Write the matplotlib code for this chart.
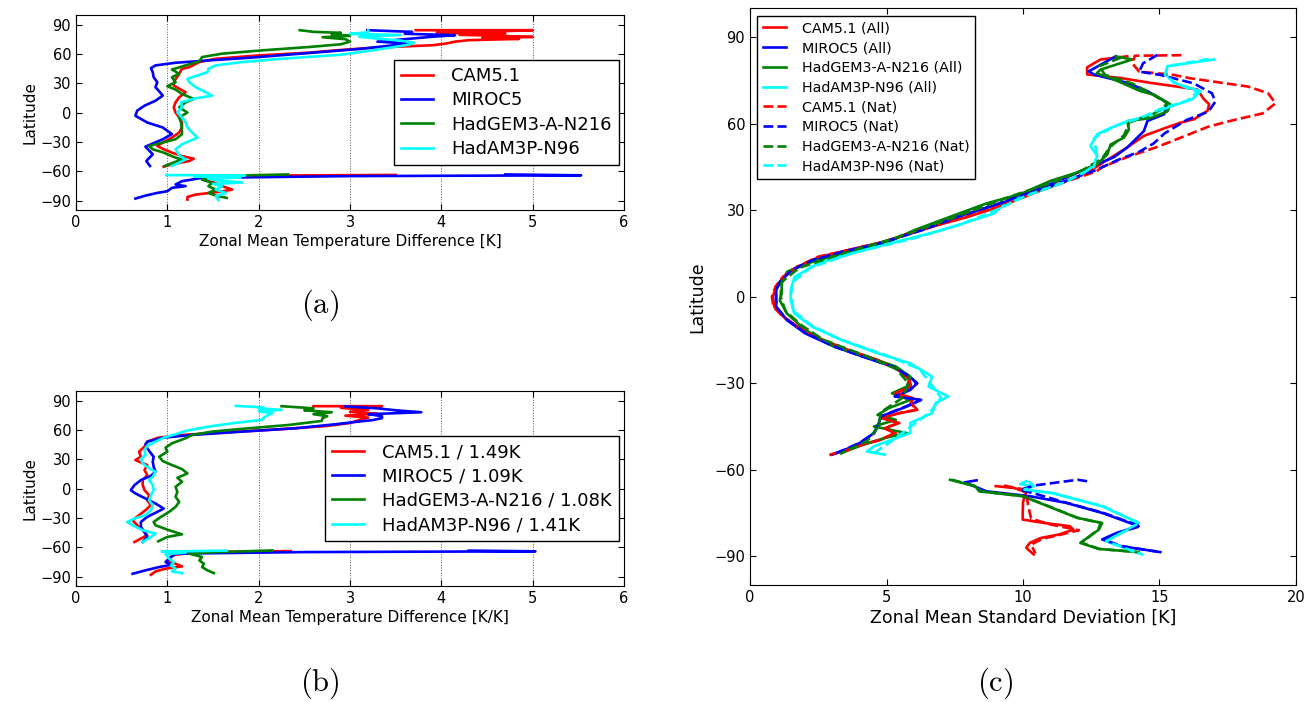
import numpy as np
import matplotlib
matplotlib.use("Agg")
import matplotlib.pyplot as plt

plt.rcParams['xtick.direction'] = 'in'
plt.rcParams['ytick.direction'] = 'in'
plt.rcParams['xtick.top'] = True
plt.rcParams['ytick.right'] = True
plt.rcParams['xtick.major.size'] = 4
plt.rcParams['ytick.major.size'] = 4
plt.rcParams['mathtext.fontset'] = 'cm'

models = ["CAM5.1", "MIROC5", "HadGEM3-A-N216", "HadAM3P-N96"]
colors = ["#ff0000", "#0000ff", "#008000", "#00ffff"]
scale_b = ["1.49K", "1.09K", "1.08K", "1.41K"]

# ---------------- panel (a): zonal mean temperature difference [K]
a_cam_lat = [84.2, 84.2, 82.5, 81.5, 80.5, 79.5, 78.5, 77.3, 76.3, 75.3, 74.0, 72.5, 70.5, 68.8, 66.5, 64.0,
             61.2, 58.4, 55.0, 51.6, 46.4, 44.7, 39.6, 32.7, 27.6, 20.7, 15.6, 10.4, 5.3, 0.0, -5.0, -10.2,
             -15.3, -20.4, -25.6, -30.7, -34.2, -37.6, -41.0, -44.5, -47.2, -49.6, -53.0, -55.4]
a_cam_val = [3.72, 5.0, 4.45, 3.95, 4.7, 4.2, 4.6, 5.0, 4.45, 4.85, 4.3, 4.15, 4.05, 3.9, 3.3, 2.9,
             2.55, 2.0, 1.53, 1.35, 1.24, 1.16, 1.13, 1.08, 1.07, 1.2, 1.13, 1.09, 1.07, 1.09, 1.13, 1.16,
             1.16, 1.13, 1.05, 0.95, 0.89, 0.96, 1.05, 1.16, 1.29, 1.24, 1.05, 0.96]
a_cam_slat = [-63.8, -64.5, -66.0, -68.5, -72.0, -75.3, -78.8, -81.2, -83.9, -86.3, -89.0]
a_cam_sval = [3.5, 2.0, 1.4, 1.38, 1.53, 1.6, 1.71, 1.56, 1.31, 1.22, 1.22]

a_miroc_lat = [84.2, 82.5, 80.5, 79.1, 77.5, 75.0, 72.5, 70.5, 68.0, 65.0, 62.0, 59.0, 56.0, 53.3, 50.9,
               48.2, 45.4, 41.3, 36.1, 31.0, 25.9, 21.7, 17.3, 12.1, 7.0, 1.9, -3.3, -10.2, -15.3, -22.0,
               -27.3, -32.5, -34.9, -42.7, -49.6, -54.7]
a_miroc_val = [3.19, 3.68, 3.6, 4.15, 3.9, 3.6, 3.3, 3.65, 3.4, 3.1, 2.7, 2.3, 1.9, 1.45, 1.09,
               0.87, 0.82, 0.84, 0.85, 0.89, 0.87, 0.91, 0.95, 0.87, 0.75, 0.67, 0.65, 0.78, 0.95, 1.05,
               0.95, 0.82, 0.76, 0.84, 0.77, 0.81]
a_miroc_slat = [-63.3, -64.2, -65.0, -66.8, -70.2, -73.6, -75.3, -77.0, -80.5, -82.2, -85.0, -88.0]
a_miroc_sval = [4.7, 5.53, 3.0, 1.38, 1.16, 1.09, 1.2, 1.05, 1.0, 0.89, 0.76, 0.65]

a_hadgem_lat = [84.2, 82.5, 81.5, 80.0, 78.5, 77.0, 75.0, 72.5, 69.8, 67.0, 63.6, 60.2, 56.7, 52.3, 48.2,
                44.0, 39.6, 36.1, 31.0, 26.9, 23.5, 19.0, 13.9, 10.4, 5.3, 0.0, -5.0, -10.2, -17.0, -22.2,
                -27.3, -30.7, -34.2, -37.6, -41.0, -46.2, -47.9, -54.7]
a_hadgem_val = [2.45, 2.6, 2.9, 2.8, 3.0, 2.7, 2.95, 3.0, 2.9, 2.55, 2.04, 1.6, 1.38, 1.35, 1.2,
                1.05, 1.13, 1.05, 1.09, 1.0, 1.09, 1.16, 1.29, 1.2, 1.13, 1.22, 1.13, 1.15, 1.16, 1.16,
                1.09, 0.95, 0.8, 0.84, 0.96, 1.09, 1.16, 0.97]
a_hadgem_slat = [-63.3, -65.0, -68.5, -72.0, -75.3, -78.8, -82.2, -85.0, -87.3]
a_hadgem_sval = [2.32, 1.5, 1.38, 1.49, 1.45, 1.53, 1.45, 1.53, 1.65]

a_hadam_lat = [84.0, 82.0, 80.5, 79.3, 77.5, 75.5, 73.5, 71.5, 69.5, 66.5, 63.0, 59.1, 55.0, 51.6, 48.2,
               44.7, 41.3, 37.9, 34.4, 31.0, 25.9, 20.7, 17.3, 14.5, 10.4, 5.3, 0.0, -5.0, -10.2, -15.3,
               -20.4, -25.6, -32.5, -37.6, -43.8, -47.9, -51.3, -54.7]
a_hadam_val = [3.2, 3.2, 3.0, 3.55, 3.1, 3.3, 3.55, 3.7, 3.65, 3.45, 3.2, 2.9, 2.25, 1.82, 1.53,
               1.45, 1.44, 1.33, 1.22, 1.24, 1.31, 1.42, 1.49, 1.31, 1.15, 1.16, 1.11, 1.16, 1.2, 1.22,
               1.27, 1.33, 1.16, 1.09, 1.13, 1.2, 1.13, 1.05]
a_hadam_slat = [-64.0, -64.3, -65.5, -66.5, -67.5, -69.5, -71.5, -73.0, -75.3, -78.8, -82.2, -85.6, -89.5]
a_hadam_sval = [0.99, 1.85, 1.3, 1.8, 1.45, 1.55, 1.82, 1.5, 1.6, 1.53, 1.64, 1.53, 1.56]

# ---------------- panel (b): zonal mean temperature difference [K/K]
b_cam_lat = [84.2, 84.2, 82.5, 80.5, 78.5, 76.5, 74.5, 72.5, 70.0, 67.0, 64.0, 61.0, 58.0, 55.0, 52.0,
             47.9, 42.8, 37.7, 32.5, 29.1, 24.0, 18.9, 13.7, 8.6, 3.5, -1.7, -6.8, -12.0, -17.0, -22.2,
             -27.3, -32.4, -37.6, -42.7, -47.8, -51.2, -54.7]
b_cam_val = [2.6, 3.35, 2.9, 3.2, 3.0, 3.3, 2.95, 3.2, 3.1, 3.0, 2.75, 2.3, 1.75, 1.2, 0.9,
             0.78, 0.75, 0.69, 0.71, 0.65, 0.78, 0.75, 0.78, 0.73, 0.73, 0.75, 0.8, 0.78, 0.82, 0.76,
             0.69, 0.62, 0.67, 0.73, 0.78, 0.71, 0.64]
b_cam_slat = [-64.0, -65.0, -68.4, -73.5, -76.9, -79.6, -82.0, -84.8, -88.2]
b_cam_sval = [2.35, 1.3, 1.05, 1.0, 1.09, 1.16, 0.98, 0.87, 0.82]

b_miroc_lat = [84.0, 82.0, 80.0, 78.0, 76.0, 74.0, 72.0, 70.0, 68.0, 65.7, 61.6, 58.2, 54.8, 52.0, 47.9,
               45.2, 41.1, 36.0, 32.5, 27.4, 22.3, 17.2, 13.0, 8.6, 3.5, -1.7, -5.0, -10.2, -15.3, -20.5,
               -23.9, -29.0, -34.2, -39.3, -44.4, -49.5, -54.7]
b_miroc_val = [2.95, 3.3, 3.5, 3.78, 3.2, 3.35, 3.35, 3.25, 3.05, 2.84, 2.4, 1.82, 1.27, 0.95, 0.78,
               0.76, 0.78, 0.82, 0.85, 0.84, 0.85, 0.87, 0.82, 0.71, 0.64, 0.6, 0.65, 0.76, 0.87, 0.96,
               0.89, 0.78, 0.71, 0.71, 0.75, 0.78, 0.73]
b_miroc_slat = [-63.5, -64.2, -65.0, -66.6, -71.8, -75.2, -77.9, -80.3, -83.7, -87.2]
b_miroc_sval = [4.3, 5.03, 2.5, 1.09, 1.02, 0.98, 1.05, 0.91, 0.76, 0.62]

b_hadgem_lat = [84.2, 82.0, 80.0, 78.0, 76.0, 74.0, 72.0, 69.1, 65.0, 61.6, 58.2, 54.8, 51.4, 46.2, 41.8,
                37.7, 32.5, 28.1, 24.0, 19.9, 15.4, 11.0, 6.9, 1.8, -3.4, -8.5, -13.6, -18.8, -23.9, -29.0,
                -34.2, -37.6, -42.7, -46.8, -49.5, -54.0]
b_hadgem_val = [2.25, 2.6, 2.5, 2.8, 2.6, 2.75, 2.7, 2.69, 2.33, 1.89, 1.49, 1.27, 1.2, 1.05, 0.98,
                1.0, 0.91, 0.95, 1.05, 1.16, 1.22, 1.11, 1.16, 1.09, 1.11, 1.09, 1.13, 1.09, 1.02, 0.93,
                0.85, 0.87, 1.02, 1.16, 1.0, 0.9]
b_hadgem_slat = [-63.3, -65.5, -66.6, -70.0, -73.5, -76.9, -80.3, -83.7, -86.5]
b_hadgem_sval = [2.15, 1.4, 1.24, 1.38, 1.35, 1.4, 1.38, 1.44, 1.51]

b_hadam_lat = [84.5, 83.0, 82.0, 80.5, 79.0, 77.0, 75.0, 72.0, 70.2, 66.7, 63.3, 58.9, 55.5, 52.0, 47.9,
               43.8, 39.4, 34.3, 30.2, 25.7, 20.6, 17.2, 12.0, 8.6, 3.5, -1.7, -6.8, -12.0, -17.0, -22.2,
               -27.3, -30.7, -34.2, -37.6, -42.7, -46.0, -49.5, -54.7]
b_hadam_val = [1.75, 2.05, 2.0, 2.25, 2.0, 2.15, 2.1, 2.05, 2.04, 1.71, 1.45, 1.2, 1.09, 0.96, 0.87,
               0.78, 0.75, 0.76, 0.71, 0.73, 0.8, 0.87, 0.84, 0.8, 0.84, 0.85, 0.82, 0.8, 0.84, 0.82,
               0.76, 0.64, 0.56, 0.62, 0.73, 0.87, 0.82, 0.73]
b_hadam_slat = [-63.5, -64.5, -65.5, -67.3, -71.8, -75.2, -78.6, -82.0, -84.8, -86.5]
b_hadam_sval = [1.65, 0.94, 1.2, 0.98, 1.02, 1.07, 1.04, 1.09, 1.05, 1.16]

# ---------------- panel (c): zonal mean standard deviation [K], All forcing
c_cam_all_lat = [83.4, 82.3, 79.6, 77.1, 75.9, 74.2, 71.9, 68.5, 66.8, 64.5, 61.6, 60.4, 58.4, 55.8, 51.8,
                 48.9, 46.0, 43.7, 40.2, 36.8, 33.3, 30.5, 27.5, 25.4, 22.0, 19.1, 16.2, 13.9, 10.4, 6.9,
                 3.5, 0.0, -3.5, -6.9, -10.4, -15.0, -18.5, -21.9, -25.4, -28.8, -31.0, -33.5, -35.2,
                 -37.0, -39.2, -40.4, -42.1, -43.8, -45.6, -47.3, -49.6, -51.3, -53.1, -54.8]
c_cam_all_val = [13.82, 12.84, 12.35, 12.35, 13.57, 14.67, 16.39, 16.63, 16.82, 16.76, 16.27, 15.78, 15.17,
                 14.43, 13.82, 13.33, 12.84, 12.47, 11.62, 10.64, 9.66, 8.9, 7.9, 7.08, 5.88, 4.95, 3.62,
                 2.56, 1.76, 1.23, 0.96, 0.83, 0.89, 1.22, 1.75, 2.68, 3.61, 4.67, 5.47, 5.84, 5.9, 5.34,
                 5.98, 5.9, 6.13, 5.47, 4.81, 5.47, 4.94, 5.34, 4.8, 4.14, 3.61, 2.95]
c_cam_all_slat = [-65.7, -66.4, -67.9, -69.2, -71.5, -75.0, -77.3, -78.5, -79.6, -80.8, -82.5, -83.7, -85.4,
                  -87.1, -89.4]
c_cam_all_sval = [9.0, 9.7, 10.12, 10.05, 10.0, 9.99, 9.99, 10.78, 11.71, 11.85, 11.31, 10.65, 10.25, 10.12,
                  10.39]

c_miroc_all_lat = [83.4, 78.2, 77.1, 74.2, 71.3, 67.3, 63.3, 61.0, 57.5, 54.1, 51.8, 48.4, 45.5, 41.5, 36.8,
                   32.3, 27.8, 23.1, 18.5, 15.6, 12.7, 9.2, 5.2, 2.3, -1.2, -3.5, -8.1, -12.7, -17.3, -20.8,
                   -24.2, -27.7, -30.0, -32.3, -34.6, -35.8, -38.1, -41.5, -45.0, -47.3, -50.8, -53.1, -54.8]
c_miroc_all_val = [13.4, 12.41, 12.6, 13.82, 14.56, 15.29, 15.17, 14.56, 14.43, 14.07, 13.82, 13.33, 12.6,
                   11.62, 10.4, 9.17, 7.61, 6.28, 4.69, 3.36, 2.29, 1.5, 1.1, 0.96, 0.96, 0.96, 1.35, 2.02,
                   3.08, 4.14, 5.2, 5.84, 6.13, 5.87, 5.34, 6.27, 5.74, 4.81, 4.67, 4.54, 4.01, 3.48, 3.01]
c_miroc_all_slat = [-63.7, -64.4, -67.5, -69.2, -71.5, -75.0, -79.6, -81.9, -84.2, -86.5, -88.6]
c_miroc_all_sval = [8.3, 7.86, 8.66, 10.25, 11.58, 12.9, 14.24, 13.44, 12.9, 13.57, 15.03]

c_hadgem_all_lat = [83.4, 82.3, 78.8, 77.5, 75.9, 71.3, 70.1, 66.7, 64.3, 62.0, 60.9, 58.0, 55.2, 52.8, 49.4,
                    46.0, 43.1, 40.2, 35.6, 32.4, 27.8, 23.1, 18.5, 15.6, 12.1, 8.7, 4.6, 1.1, -1.2, -5.8,
                    -11.5, -17.3, -20.8, -24.2, -27.7, -31.2, -33.5, -35.8, -38.7, -41.0, -42.7, -45.0,
                    -47.3, -49.0, -51.3, -54.2]
c_hadgem_all_val = [13.4, 14.0, 12.84, 12.7, 13.21, 14.31, 14.8, 15.41, 15.29, 14.68, 13.82, 13.88, 13.7,
                    13.21, 13.09, 12.72, 11.99, 11.01, 9.9, 8.67, 7.35, 6.02, 4.96, 3.63, 2.29, 1.36, 1.16,
                    1.16, 1.09, 1.35, 2.02, 3.08, 4.28, 5.34, 5.87, 5.74, 5.2, 5.87, 5.07, 4.67, 5.34, 4.54,
                    5.74, 4.94, 4.14, 3.35]
c_hadgem_all_slat = [-63.5, -65.8, -67.5, -69.2, -72.7, -76.7, -78.5, -80.8, -85.4, -87.5, -88.6]
c_hadgem_all_sval = [7.33, 8.26, 8.39, 9.99, 10.92, 11.98, 12.9, 12.78, 12.1, 12.78, 14.24]

c_hadam_all_lat = [82.3, 80.0, 77.1, 74.2, 71.3, 68.5, 65.6, 62.7, 60.9, 58.6, 56.4, 52.3, 48.9, 45.5, 41.5,
                   38.0, 34.5, 31.0, 28.9, 25.4, 22.0, 18.5, 15.0, 11.6, 6.9, 2.3, -1.2, -5.8, -10.4, -15.0,
                   -19.6, -23.1, -27.7, -31.2, -34.6, -36.9, -40.4, -43.8, -47.3, -49.6, -51.9, -53.7, -54.8]
c_hadam_all_val = [17.0, 15.29, 15.23, 15.54, 16.51, 16.2, 15.29, 14.56, 13.82, 13.21, 12.72, 12.47, 12.72,
                   12.6, 11.99, 11.01, 9.9, 9.17, 8.94, 7.8, 6.6, 5.1, 3.7, 2.5, 1.63, 1.49, 1.49, 1.62,
                   2.28, 3.35, 4.67, 5.87, 6.67, 6.54, 7.26, 6.8, 6.67, 5.87, 5.87, 5.2, 4.54, 4.28, 4.94]
c_hadam_all_slat = [-64.0, -65.0, -65.8, -66.9, -68.1, -72.7, -78.5, -80.5, -84.8, -89.4]
c_hadam_all_sval = [10.12, 9.9, 10.38, 10.0, 11.05, 12.9, 14.24, 13.9, 13.04, 14.37]

# ---------------- panel (c): Nat forcing
c_cam_nat_lat = [83.8, 83.6, 81.0, 78.1, 77.0, 75.8, 74.2, 72.9, 70.6, 67.1, 63.6, 61.3, 59.0, 55.5, 52.0,
                 48.6, 45.1, 43.4, 40.2, 36.8, 33.3, 30.5, 27.5, 25.4, 22.0, 19.1, 16.2, 13.9, 10.4, 6.9,
                 3.5, 0.0, -3.5, -6.9, -10.4, -15.0, -18.5, -21.9, -25.4, -28.8, -31.0, -33.5, -35.2,
                 -37.0, -39.2, -40.4, -42.1, -43.8, -45.6, -47.3, -49.6, -51.3, -53.1, -54.8]
c_cam_nat_val = [15.8, 14.1, 14.0, 14.26, 15.5, 16.12, 17.3, 18.25, 18.98, 19.25, 18.78, 17.72, 16.79,
                 15.86, 14.93, 13.86, 12.93, 12.67, 11.65, 10.6, 9.7, 8.85, 7.85, 7.05, 5.85, 4.9, 3.6,
                 2.5, 1.72, 1.2, 0.93, 0.8, 0.86, 1.2, 1.72, 2.65, 3.58, 4.64, 5.45, 5.82, 5.88, 5.32,
                 5.96, 5.88, 6.1, 5.45, 4.8, 5.45, 4.92, 5.3, 4.78, 4.12, 3.6, 2.93]
c_cam_nat_slat = [-65.5, -67.0, -70.0, -73.0, -77.0, -79.0, -81.0, -82.5, -84.0, -86.0, -89.0]
c_cam_nat_sval = [9.3, 10.1, 10.15, 10.2, 10.3, 11.0, 12.05, 11.4, 10.7, 10.3, 10.45]

c_miroc_nat_lat = [83.9, 81.0, 78.1, 76.9, 74.0, 70.6, 67.7, 64.2, 61.3, 59.0, 56.7, 53.2, 50.3, 47.4, 43.9,
                   40.0, 36.0, 32.0, 27.8, 23.1, 18.5, 15.6, 12.7, 9.2, 5.2, 2.3, -1.2, -4.0, -8.1, -12.7,
                   -17.3, -20.8, -24.2, -27.7, -30.0, -32.3, -34.6, -35.8, -38.1, -41.5, -45.0, -47.3,
                   -50.8, -53.1, -54.8]
c_miroc_nat_val = [14.93, 14.4, 14.26, 15.06, 16.26, 16.92, 17.05, 16.79, 15.99, 15.59, 15.19, 14.79, 14.26,
                   13.46, 12.67, 11.5, 10.2, 9.0, 7.65, 6.3, 4.75, 3.4, 2.3, 1.52, 1.1, 0.95, 0.95, 1.0,
                   1.37, 2.05, 3.1, 4.15, 5.22, 5.85, 6.1, 5.85, 5.3, 6.25, 5.7, 4.8, 4.65, 4.55, 4.0,
                   3.45, 3.0]
c_miroc_nat_slat = [-64.0, -63.5, -64.5, -65.5, -67.0, -68.5, -71.5, -75.0, -79.6, -81.9, -84.2, -86.5, -88.4]
c_miroc_nat_sval = [12.35, 12.0, 11.2, 10.4, 9.9, 10.5, 11.6, 12.95, 14.3, 13.5, 12.95, 13.6, 14.9]

c_hadgem_nat_lat = [83.0, 80.0, 77.0, 74.0, 71.0, 67.0, 63.5, 60.5, 56.0, 52.0, 48.0, 44.0, 40.0, 35.0,
                    30.0, 25.0, 20.0, 15.0, 10.0, 5.0, 0.0, -5.0, -10.0, -15.0, -20.0, -25.0, -30.0,
                    -35.0, -40.0, -45.0, -50.0, -54.5]
c_hadgem_nat_val = [13.6, 12.8, 13.0, 14.0, 14.6, 15.3, 14.8, 13.9, 13.7, 13.2, 12.9, 12.2, 11.2, 9.6,
                    8.2, 6.7, 5.2, 3.4, 1.8, 1.15, 1.12, 1.3, 1.9, 2.7, 4.1, 5.35, 5.8, 5.6, 4.8, 4.7,
                    4.3, 3.3]
c_hadgem_nat_slat = [-63.5, -65.8, -67.5, -69.2, -72.7, -76.7, -78.5, -80.8, -85.4, -87.5, -88.6]
c_hadgem_nat_sval = [7.4, 8.3, 8.45, 10.0, 10.95, 12.0, 12.85, 12.75, 12.15, 12.8, 14.2]

c_hadam_nat_lat = [82.5, 80.0, 77.0, 74.0, 71.0, 68.0, 65.0, 62.0, 59.0, 55.0, 50.0, 45.0, 40.0, 35.0,
                   30.0, 25.0, 20.0, 15.0, 10.0, 5.0, 0.0, -5.0, -10.0, -15.0, -20.0, -25.0, -30.0,
                   -35.0, -40.0, -45.0, -50.0, -54.5]
c_hadam_nat_val = [16.8, 15.3, 15.2, 15.6, 16.4, 16.0, 15.0, 14.3, 13.3, 12.6, 12.7, 12.6, 11.6, 10.1,
                   9.0, 7.7, 5.9, 3.7, 2.2, 1.55, 1.5, 1.6, 2.25, 3.35, 4.9, 6.2, 6.6, 7.0, 6.6, 5.9,
                   5.2, 4.5]
c_hadam_nat_slat = [-64.0, -65.8, -66.9, -68.1, -72.7, -78.5, -84.8, -89.4]
c_hadam_nat_sval = [10.2, 10.4, 10.05, 11.1, 12.95, 14.25, 13.05, 14.35]


def join(n_lat, n_val, s_lat, s_val):
    # north and south pieces, broken by a gap
    return (np.array(n_val + [np.nan] + s_val), np.array(n_lat + [np.nan] + s_lat))


a_series = [join(a_cam_lat, a_cam_val, a_cam_slat, a_cam_sval),
            join(a_miroc_lat, a_miroc_val, a_miroc_slat, a_miroc_sval),
            join(a_hadgem_lat, a_hadgem_val, a_hadgem_slat, a_hadgem_sval),
            join(a_hadam_lat, a_hadam_val, a_hadam_slat, a_hadam_sval)]
b_series = [join(b_cam_lat, b_cam_val, b_cam_slat, b_cam_sval),
            join(b_miroc_lat, b_miroc_val, b_miroc_slat, b_miroc_sval),
            join(b_hadgem_lat, b_hadgem_val, b_hadgem_slat, b_hadgem_sval),
            join(b_hadam_lat, b_hadam_val, b_hadam_slat, b_hadam_sval)]
c_all = [join(c_cam_all_lat, c_cam_all_val, c_cam_all_slat, c_cam_all_sval),
         join(c_miroc_all_lat, c_miroc_all_val, c_miroc_all_slat, c_miroc_all_sval),
         join(c_hadgem_all_lat, c_hadgem_all_val, c_hadgem_all_slat, c_hadgem_all_sval),
         join(c_hadam_all_lat, c_hadam_all_val, c_hadam_all_slat, c_hadam_all_sval)]
c_nat = [join(c_cam_nat_lat, c_cam_nat_val, c_cam_nat_slat, c_cam_nat_sval),
         join(c_miroc_nat_lat, c_miroc_nat_val, c_miroc_nat_slat, c_miroc_nat_sval),
         join(c_hadgem_nat_lat, c_hadgem_nat_val, c_hadgem_nat_slat, c_hadgem_nat_sval),
         join(c_hadam_nat_lat, c_hadam_nat_val, c_hadam_nat_slat, c_hadam_nat_sval)]

fig = plt.figure(figsize=(13.06, 7.02), dpi=100, facecolor="white")
ax_a = fig.add_axes([0.0582, 0.7004, 0.4196, 0.2786])
ax_b = fig.add_axes([0.0582, 0.1648, 0.4196, 0.2786])
ax_c = fig.add_axes([0.5743, 0.1667, 0.418, 0.8212])

lw = 1.9

for ax, series, labels, xlab in [
        (ax_a, a_series, models, "Zonal Mean Temperature Difference [K]"),
        (ax_b, b_series, [m + " / " + s for m, s in zip(models, scale_b)],
         "Zonal Mean Temperature Difference [K/K]")]:
    for (x, y), col, lab in zip(series, colors, labels):
        ax.plot(x, y, color=col, lw=lw, label=lab)
    ax.set_xlim(0, 6)
    ax.set_ylim(-100, 100)
    ax.set_yticks(np.arange(-90, 91, 30))
    ax.set_xticks(np.arange(0, 7, 1))
    ax.xaxis.grid(True, linestyle=":", color="0.35", lw=0.7)
    ax.tick_params(labelsize=10.5)
    ax.set_xlabel(xlab, fontsize=11, labelpad=3)
    ax.set_ylabel("Latitude", fontsize=11, labelpad=2)
    leg = ax.legend(loc="center right", fontsize=13, fancybox=False, framealpha=1,
                    handlelength=1.75, handletextpad=1.0, labelspacing=0.35, borderaxespad=0.3)
    leg.get_frame().set_edgecolor("k")

for (x, y), col, m in zip(c_all, colors, models):
    ax_c.plot(x, y, color=col, lw=lw, label=m + " (All)")
for (x, y), col, m in zip(c_nat, colors, models):
    ax_c.plot(x, y, color=col, lw=lw, ls="--", label=m + " (Nat)")
ax_c.set_xlim(0, 20)
ax_c.set_ylim(-100, 100)
ax_c.set_xticks(np.arange(0, 21, 5))
ax_c.set_yticks(np.arange(-90, 91, 30))
ax_c.tick_params(labelsize=10.5)
ax_c.set_xlabel("Zonal Mean Standard Deviation [K]", fontsize=12.5, labelpad=3)
ax_c.set_ylabel("Latitude", fontsize=12.5, labelpad=6)
leg = ax_c.legend(loc="upper left", fontsize=10.3, fancybox=False, framealpha=1,
                  handlelength=1.6, handletextpad=1.1, labelspacing=0.4, borderaxespad=0.5)
leg.get_frame().set_edgecolor("k")

fig.text(0.245, 0.5655, r"$\mathrm{(a)}$", fontsize=22, ha="center", va="center")
fig.text(0.245, 0.027, r"$\mathrm{(b)}$", fontsize=22, ha="center", va="center")
fig.text(0.762, 0.027, r"$\mathrm{(c)}$", fontsize=22, ha="center", va="center")

fig.savefig("out.png", dpi=100, facecolor="white")
